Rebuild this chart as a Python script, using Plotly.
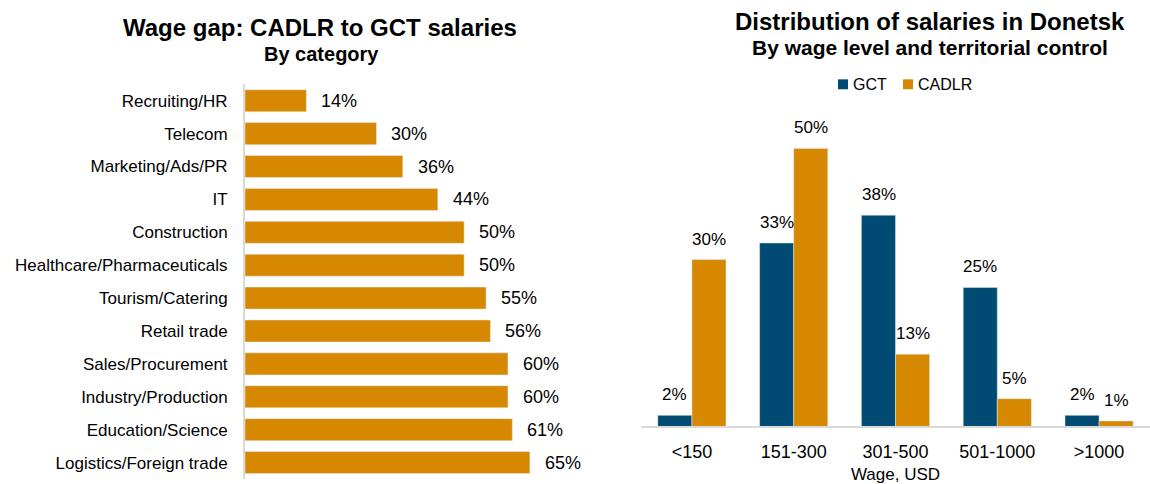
import plotly.graph_objects as go

# Left chart data
categories = ["Recruiting/HR", "Telecom", "Marketing/Ads/PR", "IT", "Construction",
              "Healthcare/Pharmaceuticals", "Tourism/Catering", "Retail trade",
              "Sales/Procurement", "Industry/Production", "Education/Science",
              "Logistics/Foreign trade"]
wage_gap = [14, 30, 36, 44, 50, 50, 55, 56, 60, 60, 61, 65]

# Right chart data
wage_levels = ["<150", "151-300", "301-500", "501-1000", ">1000"]
gct = [2, 33, 38, 25, 2]
cadlr = [30, 50, 13, 5, 1]
series_names = ["GCT", "CADLR"]

ORANGE = "#D68800"
BLUE = "#004B73"
FONT = "Liberation Sans, Arial, sans-serif"

fig = go.Figure()

fig.add_trace(go.Bar(
    y=categories, x=wage_gap, orientation="h",
    marker=dict(color=ORANGE), showlegend=False,
    xaxis="x", yaxis="y", hoverinfo="skip",
))

fig.add_trace(go.Bar(
    x=wage_levels, y=gct, name=series_names[0], marker=dict(color=BLUE),
    xaxis="x2", yaxis="y2", showlegend=False,
))
fig.add_trace(go.Bar(
    x=wage_levels, y=cadlr, name=series_names[1], marker=dict(color=ORANGE),
    xaxis="x2", yaxis="y2", showlegend=False,
))

annotations = []
for c, v in zip(categories, wage_gap):
    annotations.append(dict(x=v, y=c, xref="x", yref="y", text=f"{v}%",
                            showarrow=False, xanchor="left", xshift=13,
                            font=dict(size=18, color="#000", family=FONT)))
for i, lvl in enumerate(wage_levels):
    annotations.append(dict(x=lvl, y=gct[i], xref="x2", yref="y2", text=f"{gct[i]}%",
                            showarrow=False, yanchor="bottom", yshift=9, xshift=-17,
                            font=dict(size=17, color="#000", family=FONT)))
    annotations.append(dict(x=lvl, y=cadlr[i], xref="x2", yref="y2", text=f"{cadlr[i]}%",
                            showarrow=False, yanchor="bottom", yshift=9, xshift=17,
                            font=dict(size=17, color="#000", family=FONT)))

# Titles
annotations += [
    dict(text="<b>Wage gap: CADLR to GCT salaries</b>", x=320/1150, y=1-28/484,
         xref="paper", yref="paper", showarrow=False, xanchor="center", yanchor="middle",
         font=dict(size=24, color="#000", family=FONT)),
    dict(text="<b>By category</b>", x=321/1150, y=1-54/484,
         xref="paper", yref="paper", showarrow=False, xanchor="center", yanchor="middle",
         font=dict(size=20, color="#000", family=FONT)),
    dict(text="<b>Distribution of salaries in Donetsk</b>", x=930/1150, y=1-22/484,
         xref="paper", yref="paper", showarrow=False, xanchor="center", yanchor="middle",
         font=dict(size=24, color="#000", family=FONT)),
    dict(text="<b>By wage level and territorial control</b>", x=930/1150, y=1-48/484,
         xref="paper", yref="paper", showarrow=False, xanchor="center", yanchor="middle",
         font=dict(size=21, color="#000", family=FONT)),
]

# Manual legend (tight spacing like the reference)
legend_items = [(838, BLUE, series_names[0]), (903, ORANGE, series_names[1])]
shapes = []
for x0, col, name in legend_items:
    shapes.append(dict(type="rect", xref="paper", yref="paper",
                       x0=x0/1150, x1=(x0+10)/1150, y0=1-90/484, y1=1-80/484,
                       fillcolor=col, line=dict(width=0)))
    annotations.append(dict(text=name, x=(x0+13)/1150, y=1-85/484, xref="paper", yref="paper",
                            showarrow=False, xanchor="left", yanchor="middle",
                            font=dict(size=16, color="#000", family=FONT)))

fig.update_layout(
    width=1150, height=484,
    margin=dict(l=0, r=0, t=0, b=0),
    paper_bgcolor="white", plot_bgcolor="white",
    font=dict(family=FONT, size=15, color="#000"),
    bargap=0.33, bargroupgap=0,
    barmode="group",
    showlegend=False,
    hovermode=False,
    annotations=annotations,
    shapes=shapes,
    xaxis=dict(domain=[245/1150, 600/1150], range=[0, 81], visible=False, fixedrange=True),
    yaxis=dict(domain=[1/484, 1-85/484], autorange="reversed", showgrid=False,
               showline=True, linecolor="#D9D9D9", linewidth=2, ticks="",
               ticklabelstandoff=12, tickfont=dict(size=17, family=FONT), anchor="x"),
    xaxis2=dict(domain=[641/1150, 1.0], showgrid=False, showline=True, linecolor="#D9D9D9",
                linewidth=2, ticks="", tickfont=dict(size=18, family=FONT), anchor="y2",
                ticklabelstandoff=8,
                title=dict(text="Wage, USD", font=dict(size=17, family=FONT), standoff=10)),
    yaxis2=dict(domain=[(484-430)/484, (484-116)/484], range=[0, 56], visible=False,
                anchor="x2"),
)
fig.data[1].update(offsetgroup="g")
fig.data[2].update(offsetgroup="c")

fig.write_html("out.html", config={"displayModeBar": False},
               post_script="document.body.style.margin='0px';")
